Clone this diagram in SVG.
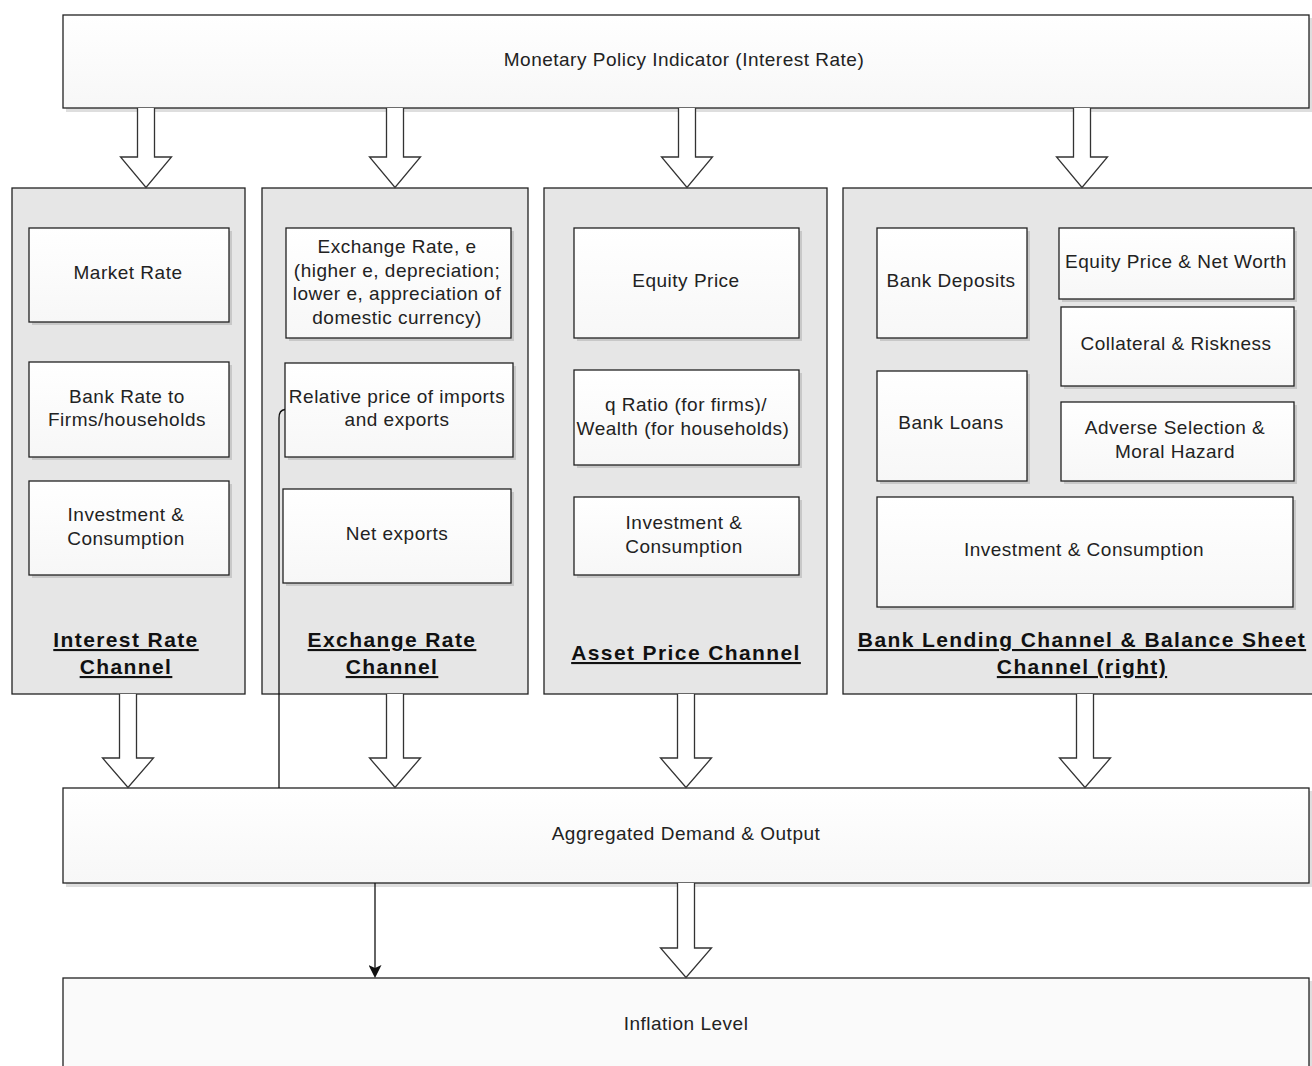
<svg xmlns="http://www.w3.org/2000/svg" width="1312" height="1066" viewBox="0 0 1312 1066">
<defs>
<linearGradient id="wg" x1="0" y1="0" x2="0" y2="1">
<stop offset="0" stop-color="#ffffff"/>
<stop offset="1" stop-color="#f7f7f7"/>
</linearGradient>
<marker id="ah" markerWidth="13" markerHeight="13" refX="11" refY="6.5" orient="auto" markerUnits="userSpaceOnUse">
<path d="M0,0 L13,6.5 L0,13 L3,6.5 Z" fill="#111"/>
</marker>
</defs>
<style>
.box{fill:url(#wg);stroke:#222;stroke-width:1.3}
.ct{fill:#e6e6e6;stroke:#222;stroke-width:1.3}
.sh{fill:#000;opacity:0.13}
.t{font-family:"Liberation Sans",Arial,Helvetica,sans-serif;font-size:19px;fill:#222;text-anchor:middle;letter-spacing:0.5px}
.b{font-family:"Liberation Sans",Arial,Helvetica,sans-serif;font-size:21px;font-weight:bold;fill:#111;text-anchor:middle;letter-spacing:1.4px;text-decoration:underline}
.ba{fill:#fff;stroke:#333;stroke-width:1.3;stroke-linejoin:miter}
.ln{fill:none;stroke:#111;stroke-width:1.3}
</style>

<g id="monetary-policy">
<rect class="sh" x="66" y="18" width="1246" height="94"/>
<rect class="box" x="63" y="15" width="1246" height="93"/>
<text class="t" x="684" y="66">Monetary Policy Indicator (Interest Rate)</text>
</g>

<g id="interest-rate-channel">
<rect class="ct" x="12" y="188" width="233" height="506"/>
<text class="b" x="126" y="647">Interest Rate</text>
<text class="b" x="126" y="674">Channel</text>
</g>
<g id="market-rate">
<rect class="sh" x="32" y="231" width="200" height="94"/>
<rect class="box" x="29" y="228" width="200" height="94"/>
<text class="t" x="128" y="279">Market Rate</text>
</g>
<g id="bank-rate">
<rect class="sh" x="32" y="365" width="200" height="95"/>
<rect class="box" x="29" y="362" width="200" height="95"/>
<text class="t" x="127" y="403">Bank Rate to</text>
<text class="t" x="127" y="426">Firms/households</text>
</g>
<g id="inv-cons-1">
<rect class="sh" x="32" y="484" width="200" height="94"/>
<rect class="box" x="29" y="481" width="200" height="94"/>
<text class="t" x="126" y="521">Investment &amp;</text>
<text class="t" x="126" y="545">Consumption</text>
</g>

<g id="exchange-rate-channel">
<rect class="ct" x="262" y="188" width="266" height="506"/>
<text class="b" x="392" y="647">Exchange Rate</text>
<text class="b" x="392" y="674">Channel</text>
</g>
<g id="exchange-rate">
<rect class="sh" x="289" y="231" width="225" height="110"/>
<rect class="box" x="286" y="228" width="225" height="110"/>
<text class="t" x="397" y="253">Exchange Rate, e</text>
<text class="t" x="397" y="277">(higher e, depreciation;</text>
<text class="t" x="397" y="300">lower e, appreciation of</text>
<text class="t" x="397" y="324">domestic currency)</text>
</g>
<g id="relative-price">
<rect class="sh" x="288" y="366" width="228" height="94"/>
<rect class="box" x="285" y="363" width="228" height="94"/>
<text class="t" x="397" y="403">Relative price of imports</text>
<text class="t" x="397" y="426">and exports</text>
</g>
<g id="net-exports">
<rect class="sh" x="286" y="492" width="228" height="94"/>
<rect class="box" x="283" y="489" width="228" height="94"/>
<text class="t" x="397" y="540">Net exports</text>
</g>

<g id="asset-price-channel">
<rect class="ct" x="544" y="188" width="283" height="506"/>
<text class="b" x="686" y="660">Asset Price Channel</text>
</g>
<g id="equity-price">
<rect class="sh" x="577" y="231" width="225" height="110"/>
<rect class="box" x="574" y="228" width="225" height="110"/>
<text class="t" x="686" y="287">Equity Price</text>
</g>
<g id="q-ratio">
<rect class="sh" x="577" y="373" width="225" height="95"/>
<rect class="box" x="574" y="370" width="225" height="95"/>
<text class="t" x="686" y="411">q Ratio (for firms)/</text>
<text class="t" x="683" y="435">Wealth (for households)</text>
</g>
<g id="inv-cons-3">
<rect class="sh" x="577" y="500" width="225" height="78"/>
<rect class="box" x="574" y="497" width="225" height="78"/>
<text class="t" x="684" y="529">Investment &amp;</text>
<text class="t" x="684" y="553">Consumption</text>
</g>

<g id="bank-lending-channel">
<rect class="ct" x="843" y="188" width="480" height="506"/>
<text class="b" x="1082" y="647">Bank Lending Channel &amp; Balance Sheet</text>
<text class="b" x="1082" y="674">Channel (right)</text>
</g>
<g id="bank-deposits">
<rect class="sh" x="880" y="231" width="150" height="110"/>
<rect class="box" x="877" y="228" width="150" height="110"/>
<text class="t" x="951" y="287">Bank Deposits</text>
</g>
<g id="equity-net-worth">
<rect class="sh" x="1062" y="231" width="235" height="71"/>
<rect class="box" x="1059" y="228" width="235" height="71"/>
<text class="t" x="1176" y="268">Equity Price &amp; Net Worth</text>
</g>
<g id="collateral">
<rect class="sh" x="1064" y="310" width="233" height="79"/>
<rect class="box" x="1061" y="307" width="233" height="79"/>
<text class="t" x="1176" y="350">Collateral &amp; Riskness</text>
</g>
<g id="bank-loans">
<rect class="sh" x="880" y="374" width="150" height="110"/>
<rect class="box" x="877" y="371" width="150" height="110"/>
<text class="t" x="951" y="429">Bank Loans</text>
</g>
<g id="adverse-selection">
<rect class="sh" x="1064" y="405" width="233" height="79"/>
<rect class="box" x="1061" y="402" width="233" height="79"/>
<text class="t" x="1175" y="434">Adverse Selection &amp;</text>
<text class="t" x="1175" y="458">Moral Hazard</text>
</g>
<g id="inv-cons-4">
<rect class="sh" x="880" y="500" width="416" height="110"/>
<rect class="box" x="877" y="497" width="416" height="110"/>
<text class="t" x="1084" y="556">Investment &amp; Consumption</text>
</g>

<g id="aggregated-demand">
<rect class="sh" x="66" y="791" width="1246" height="96"/>
<rect class="box" x="63" y="788" width="1246" height="95"/>
<text class="t" x="686" y="840">Aggregated Demand &amp; Output</text>
</g>

<g id="inflation-level">
<rect class="sh" x="66" y="981" width="1246" height="100"/>
<rect class="box" x="63" y="978" width="1246" height="100" style="fill:#fafafa"/>
<text class="t" x="686" y="1030">Inflation Level</text>
</g>

<g id="connectors">
<path class="ba" d="M137.5,108 L137.5,157 L120.5,157 L146,187.5 L171.5,157 L154.5,157 L154.5,108"/>
<path class="ba" d="M386.5,108 L386.5,157 L369.5,157 L395,187.5 L420.5,157 L403.5,157 L403.5,108"/>
<path class="ba" d="M678.5,108 L678.5,157 L661.5,157 L687,187.5 L712.5,157 L695.5,157 L695.5,108"/>
<path class="ba" d="M1073.5,108 L1073.5,157 L1056.5,157 L1082,187.5 L1107.5,157 L1090.5,157 L1090.5,108"/>

<path class="ba" d="M119.5,694 L119.5,758 L102.5,758 L128,787.5 L153.5,758 L136.5,758 L136.5,694"/>
<path class="ba" d="M386.5,694 L386.5,758 L369.5,758 L395,787.5 L420.5,758 L403.5,758 L403.5,694"/>
<path class="ba" d="M677.5,694 L677.5,758 L660.5,758 L686,787.5 L711.5,758 L694.5,758 L694.5,694"/>
<path class="ba" d="M1076.5,694 L1076.5,758 L1059.5,758 L1085,787.5 L1110.5,758 L1093.5,758 L1093.5,694"/>

<path class="ba" d="M677.5,883 L677.5,948 L660.5,948 L686,977.5 L711.5,948 L694.5,948 L694.5,883"/>

<path class="ln" d="M285,409.5 Q279,410 279,418 L279,788"/>
<path class="ln" d="M375,883 L375,976" marker-end="url(#ah)"/>
</g>
</svg>
